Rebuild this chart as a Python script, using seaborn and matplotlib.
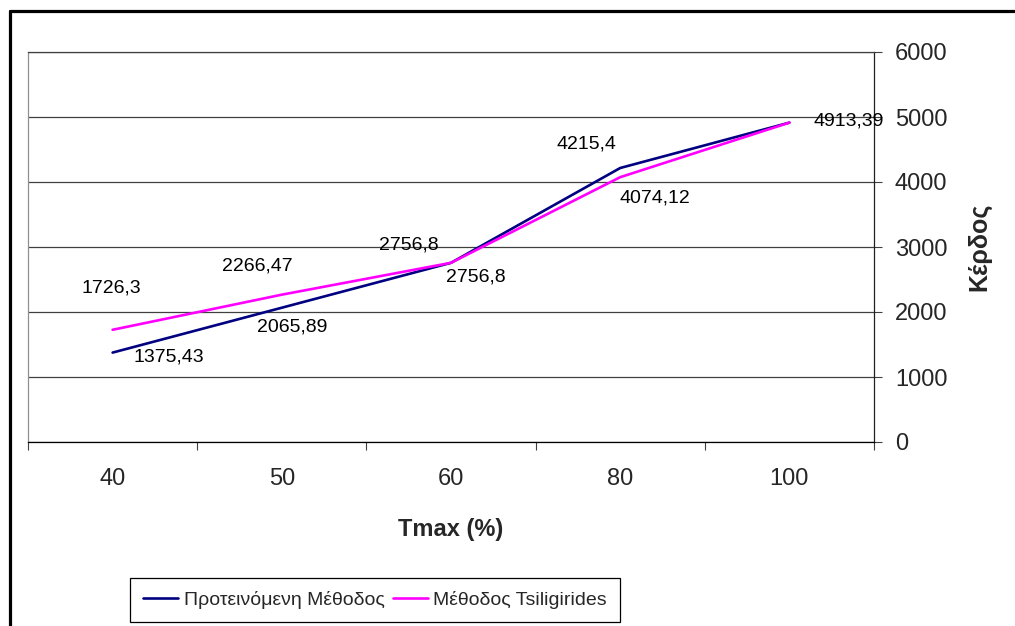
import matplotlib
matplotlib.use("Agg")
import matplotlib.pyplot as plt
from matplotlib.lines import Line2D
from matplotlib.ticker import FixedLocator, NullFormatter, FixedFormatter
import numpy as np
import pandas as pd
import seaborn as sns

# Data
tmax_labels = ["40", "50", "60", "80", "100"]
proposed = [1375.43, 2065.89, 2756.8, 4215.4, 4913.39]
tsiligirides = [1726.3, 2266.47, 2756.8, 4074.12, 4913.39]
series_names = ["Προτεινόμενη Μέθοδος", "Μέθοδος Tsiligirides"]
y_ticks = [0, 1000, 2000, 3000, 4000, 5000, 6000]

# Label placement (pixel offsets from each point); None = label hidden behind the other series'
label_offsets = {
    series_names[0]: [(56, -4), (10, -19), (-42, 18), (-34, 24), None],
    series_names[1]: [(-1, 42), (-24, 29), (25, -14), (35, -21), (59, 2)],
}
colors = {series_names[0]: "#000080", series_names[1]: "#FF00FF"}

sns.set_theme(style="white")
plt.rcParams["font.family"] = ["Liberation Sans", "DejaVu Sans"]

pos = np.arange(len(tmax_labels))
df = pd.concat([
    pd.DataFrame({"pos": pos, "value": proposed, "series": series_names[0]}),
    pd.DataFrame({"pos": pos, "value": tsiligirides, "series": series_names[1]}),
])

fig = plt.figure(figsize=(10.15, 6.26), dpi=100)
ax = fig.add_axes([28 / 1015, 1 - 442 / 626, (874 - 28) / 1015, (442 - 52) / 626])

sns.lineplot(data=df, x="pos", y="value", hue="series", palette=colors,
             hue_order=series_names, linewidth=1.9, ax=ax, legend=False)

# Value labels
for name, vals in zip(series_names, [proposed, tsiligirides]):
    for i, (v, off) in enumerate(zip(vals, label_offsets[name])):
        if off is None:
            continue
        txt = f"{v:g}".replace(".", ",")
        ax.annotate(txt, xy=(i, v), xytext=off, textcoords="offset pixels",
                    ha="center", va="center", fontsize=14, color="black")

# Axes limits and grid
ax.set_xlim(-0.5, len(tmax_labels) - 0.5)
ax.set_ylim(0, 6000)
ax.yaxis.set_major_locator(FixedLocator(y_ticks))
ax.yaxis.tick_right()
ax.yaxis.set_label_position("right")
ax.grid(axis="y", color="#404040", linewidth=0.9)
ax.grid(axis="x", visible=False)
ax.set_axisbelow(True)

# Category axis: tick marks between categories, labels centred on them
ax.xaxis.set_major_locator(FixedLocator(np.arange(-0.5, len(tmax_labels), 1.0)))
ax.xaxis.set_major_formatter(NullFormatter())
ax.xaxis.set_minor_locator(FixedLocator(pos))
ax.xaxis.set_minor_formatter(FixedFormatter(tmax_labels))
ax.tick_params(axis="x", which="major", direction="out", length=6, width=0.8,
               color="#404040", bottom=True)
ax.tick_params(axis="x", which="minor", length=0, pad=19, labelsize=17)
ax.tick_params(axis="y", which="major", direction="out", length=6, width=0.8,
               color="#404040", right=True, left=False, pad=9, labelsize=17)

for side, spine in ax.spines.items():
    spine.set_visible(True)
    spine.set_linewidth(0.9)
ax.spines["left"].set_color("#909090")
ax.spines["top"].set_color("#404040")
ax.spines["right"].set_color("#202020")
ax.spines["bottom"].set_color("black")

ax.set_xlabel("Tmax (%)", fontsize=17, fontweight="bold", labelpad=20)
ax.set_ylabel("Κέρδος", fontsize=18, fontweight="bold", labelpad=14, rotation=90)

# Legend
handles = [Line2D([], [], color=colors[n], linewidth=1.9) for n in series_names]
leg = fig.legend(handles, series_names, loc="center",
                 bbox_to_anchor=(375 / 1015, 1 - 600 / 626), ncol=2,
                 fontsize=14, frameon=True, fancybox=False, framealpha=1,
                 edgecolor="black", handlelength=1.8, handletextpad=0.3,
                 columnspacing=0.4, borderpad=0.65, borderaxespad=0.2)
leg.get_frame().set_linewidth(0.9)

# Outer chart frame (top and left edges)
fig.add_artist(Line2D([9.5 / 1015, 1.0], [1 - 11 / 626, 1 - 11 / 626],
                      transform=fig.transFigure, color="black", linewidth=2.3))
fig.add_artist(Line2D([9.5 / 1015, 9.5 / 1015], [0.0, 1 - 11 / 626],
                      transform=fig.transFigure, color="black", linewidth=2.3))

fig.savefig("out.png", dpi=100, facecolor="white")
